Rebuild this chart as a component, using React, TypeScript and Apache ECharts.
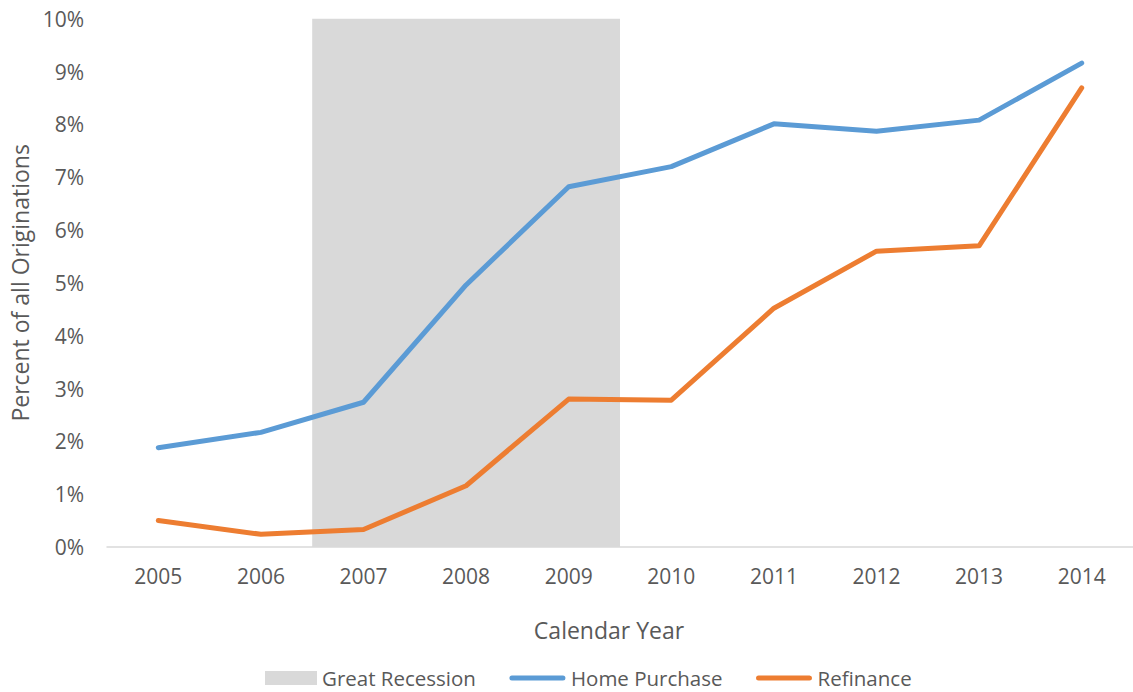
import React, { useEffect, useRef } from "react";
import * as echarts from "echarts";

const years = ["2005", "2006", "2007", "2008", "2009", "2010", "2011", "2012", "2013", "2014"];
const homePurchase = [1.88, 2.17, 2.74, 4.96, 6.82, 7.2, 8.01, 7.87, 8.08, 9.16];
const refinance = [0.5, 0.24, 0.33, 1.16, 2.8, 2.78, 4.52, 5.6, 5.7, 8.69];
// Great Recession shading: first and last shaded year, full height of the axis
const recessionYears = ["2007", "2009"];
const recessionTop = 10;

const FONT = "'Open Sans', sans-serif";
const TEXT = "#595959";
const GREY = "#d9d9d9";
const BLUE = "#5b9bd5";
const ORANGE = "#ed7d31";

const RECT_ICON = "path://M0,0M57,14M5,0L57,0L57,14L5,14Z";
const LINE_ICON =
  "path://M0,0M57,14M3,4.5L54,4.5A2.5,2.5,0,0,1,54,9.5L3,9.5A2.5,2.5,0,0,1,3,4.5Z";

export default function App() {
  const ref = useRef<HTMLDivElement>(null);
  useEffect(() => {
    if (!ref.current) return;
    const chart = echarts.init(ref.current, null, { renderer: "svg" });
    const recessionData = [
      [years.indexOf(recessionYears[0]), years.indexOf(recessionYears[1]), recessionTop],
    ];
    chart.setOption({
      animation: false,
      textStyle: { fontFamily: FONT },
      grid: { left: 107, right: -6, top: 18.7, bottom: 145, containLabel: false },
      legend: {
        left: 255,
        top: 662,
        itemWidth: 57,
        itemHeight: 14,
        itemGap: 33,
        textStyle: { fontSize: 20.5, lineHeight: 22, color: TEXT, fontFamily: FONT },
        data: [
          { name: "Great Recession", icon: RECT_ICON, itemStyle: { color: GREY } },
          { name: "Home Purchase", icon: LINE_ICON, itemStyle: { color: BLUE } },
          { name: "Refinance", icon: LINE_ICON, itemStyle: { color: ORANGE } },
        ],
      },
      xAxis: {
        type: "category",
        data: years,
        boundaryGap: true,
        axisLine: { show: true, lineStyle: { color: GREY, width: 1.5 } },
        axisTick: { show: false },
        axisLabel: { fontSize: 21, color: TEXT, margin: 18, fontFamily: FONT },
        splitLine: { show: false },
        name: "Calendar Year",
        nameLocation: "middle",
        nameGap: 71,
        nameTextStyle: { fontSize: 23, color: TEXT, fontFamily: FONT, padding: [0, 22, 0, 0] },
      },
      yAxis: {
        type: "value",
        min: 0,
        max: 10,
        interval: 1,
        axisLine: { show: false },
        axisTick: { show: false },
        splitLine: { show: false },
        axisLabel: { fontSize: 21, color: TEXT, margin: 23, formatter: "{value}%", fontFamily: FONT },
        name: "Percent of all Originations",
        nameLocation: "middle",
        nameGap: 76,
        nameTextStyle: { fontSize: 23, color: TEXT, fontFamily: FONT },
      },
      series: [
        {
          name: "Great Recession",
          type: "custom",
          data: recessionData,
          encode: { x: [0, 1], y: 2 },
          silent: true,
          z: 1,
          itemStyle: { color: GREY },
          renderItem: (params: any, api: any) => {
            const start = api.coord([api.value(0), api.value(2)]);
            const end = api.coord([api.value(1), 0]);
            const band = api.size([1, 0])[0];
            return {
              type: "rect",
              shape: {
                x: start[0] - band / 2,
                y: start[1],
                width: end[0] - start[0] + band,
                height: end[1] - start[1],
              },
              style: { fill: GREY },
            };
          },
        },
        {
          name: "Home Purchase",
          type: "line",
          data: homePurchase,
          symbol: "none",
          lineStyle: { color: BLUE, width: 5, cap: "round", join: "round" },
          itemStyle: { color: BLUE },
          z: 3,
        },
        {
          name: "Refinance",
          type: "line",
          data: refinance,
          symbol: "none",
          lineStyle: { color: ORANGE, width: 5, cap: "round", join: "round" },
          itemStyle: { color: ORANGE },
          z: 3,
        },
      ],
    });
    return () => chart.dispose();
  }, []);
  return (
    <div
      ref={ref}
      style={{ position: "absolute", left: 0, top: 0, width: 1133, height: 692, background: "#fff" }}
    />
  );
}
